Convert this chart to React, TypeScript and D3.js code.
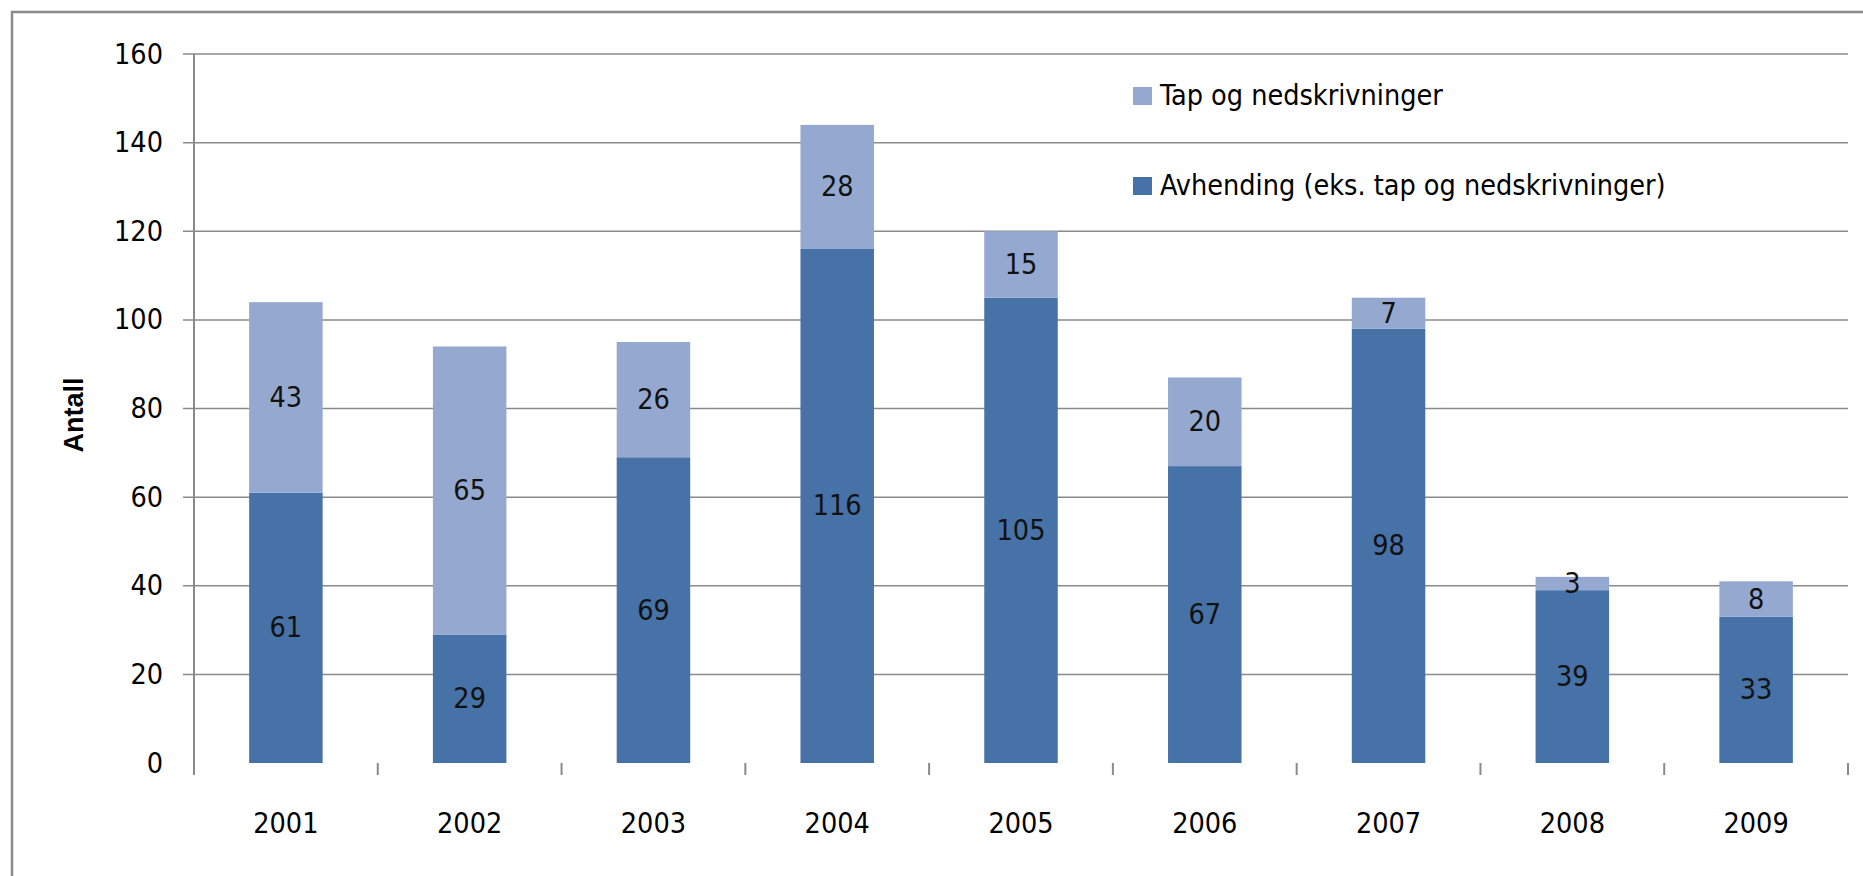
import React from "react";
import * as d3 from "d3";

const years = ["2001", "2002", "2003", "2004", "2005", "2006", "2007", "2008", "2009"];
const avhending = [61, 29, 69, 116, 105, 67, 98, 39, 33];
const tap = [43, 65, 26, 28, 15, 20, 7, 3, 8];
const yTicks = [0, 20, 40, 60, 80, 100, 120, 140, 160];
const seriesNames = ["Tap og nedskrivninger", "Avhending (eks. tap og nedskrivninger)"];

const W = 1863;
const H = 876;
const DARK = "#4672A8";
const LIGHT = "#95A9D0";
const GRID = "#8a8a8a";
const FONT = "'DejaVu Sans Condensed', 'Liberation Sans', sans-serif";
const FS = 28.5;

export default function App() {
  const x = d3.scaleBand<string>().domain(years).range([194, 1848]).padding(0);
  const y = d3.scaleLinear().domain([0, 160]).range([763, 54]);
  const bw = x.bandwidth() * 0.4;
  const stack = d3.stack<number>().keys(["a", "t"]).value((i, k) => (k === "a" ? avhending[i] : tap[i]));
  const series = stack(years.map((_, i) => i));
  const colors = [DARK, LIGHT];
  const boundaries = years.map((yr) => x(yr)!).concat([x.range()[1]]);

  return (
    <svg width={W} height={H} style={{ position: "absolute", left: 0, top: 0, background: "#fff" }} fontFamily={FONT}>
      <rect x={12} y={12} width={W + 20} height={H + 20} fill="#fff" stroke={GRID} strokeWidth={2.5} />
      {yTicks.filter((t) => t > 0).map((t) => (
        <line key={t} x1={183} x2={1848} y1={y(t)} y2={y(t)} stroke={GRID} strokeWidth={1.5} />
      ))}
      {yTicks.map((t) => (
        <text key={t} x={163} y={y(t)} textAnchor="end" dominantBaseline="central" fontSize={FS} fill="#000">
          {t}
        </text>
      ))}
      <line x1={194} x2={194} y1={54} y2={775} stroke={GRID} strokeWidth={2} />
      {boundaries.slice(1).map((b, i) => (
        <line key={i} x1={b} x2={b} y1={763} y2={775} stroke={GRID} strokeWidth={2} />
      ))}
      {series.map((s, si) =>
        s.map((d, i) => (
          <rect
            key={`${si}-${i}`}
            x={x(years[i])! + (x.bandwidth() - bw) / 2}
            y={y(d[1])}
            width={bw}
            height={y(d[0]) - y(d[1])}
            fill={colors[si]}
          />
        ))
      )}
      {series.map((s, si) =>
        s.map((d, i) => (
          <text
            key={`l${si}-${i}`}
            x={x(years[i])! + x.bandwidth() / 2}
            y={y((d[0] + d[1]) / 2)}
            textAnchor="middle"
            dominantBaseline="central"
            fontSize={FS}
            fill="#111"
          >
            {si === 0 ? avhending[i] : tap[i]}
          </text>
        ))
      )}
      {years.map((yr) => (
        <text key={yr} x={x(yr)! + x.bandwidth() / 2} y={833} textAnchor="middle" fontSize={FS} fill="#000">
          {yr}
        </text>
      ))}
      <text
        transform={`translate(83, 415) rotate(-90)`}
        textAnchor="middle"
        fontSize={27}
        fontWeight="bold"
        fontFamily="'Liberation Sans', Arial, sans-serif"
        fill="#000"
      >
        Antall
      </text>
      {seriesNames.map((n, i) => (
        <g key={n} transform={`translate(1133, ${87 + i * 90})`}>
          <rect x={0} y={0} width={19} height={18} fill={i === 0 ? LIGHT : DARK} />
          <text x={27} y={18} fontSize={FS} fill="#000">
            {n}
          </text>
        </g>
      ))}
    </svg>
  );
}
